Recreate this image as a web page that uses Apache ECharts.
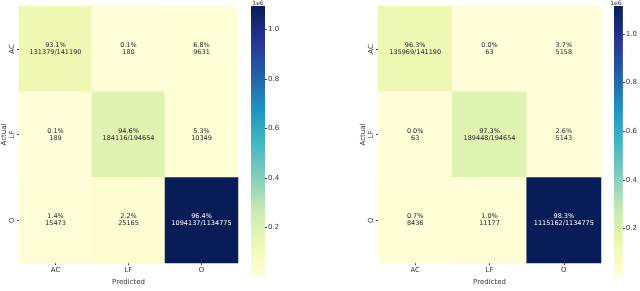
<!DOCTYPE html>
<html><head><meta charset="utf-8">
<script src="https://cdn.jsdelivr.net/npm/echarts@6/dist/echarts.min.js"></script>
<style>html,body{margin:0;padding:0;background:#fff}#c{width:640px;height:291px}</style>
</head><body><div id="c"></div>
<script>
// Data
const classes = ['AC', 'LF', 'O'];
// rows = actual, cols = predicted
const leftMatrix = [
  [131379, 180, 9631],
  [189, 184116, 10349],
  [15473, 25165, 1094137]
];
const rightMatrix = [
  [135969, 63, 5158],
  [63, 189448, 5143],
  [8436, 11177, 1115162]
];
const cbTicks = [0.2, 0.4, 0.6, 0.8, 1.0];

const ylgnbu = ['#ffffd9','#edf8b1','#c7e9b4','#7fcdbb','#41b6c4','#1d91c0','#225ea8','#253494','#081d58'];

function buildData(m) {
  const mx = Math.max(...m.flat()), mn = Math.min(...m.flat());
  const out = [];
  for (let r = 0; r < m.length; r++) {
    const tot = m[r].reduce((a, b) => a + b, 0);
    for (let c = 0; c < m[r].length; c++) {
      const v = m[r][c];
      const pct = (v / tot * 100).toFixed(1) + '%';
      const txt = r === c ? pct + '\n' + v + '/' + tot : pct + '\n' + v;
      const dark = (v - mn) / (mx - mn) > 0.5;
      out.push({ value: [c, r, v], label: { formatter: txt, color: dark ? '#ffffff' : '#262626' } });
    }
  }
  return { data: out, min: mn, max: mx };
}
const L = buildData(leftMatrix), R = buildData(rightMatrix);

const font = 'DejaVu Sans';
function hmAxes(gi) {
  return {
    x: { type: 'category', gridIndex: gi, data: classes, position: 'bottom',
      axisLine: { show: false }, axisTick: { show: true, length: 2, alignWithLabel: true, lineStyle: { color: '#333' } },
      axisLabel: { fontSize: 7, color: '#333', fontFamily: font, margin: 4 },
      name: 'Predicted', nameLocation: 'middle', nameGap: 12, nameTextStyle: { fontSize: 7, color: '#333', fontFamily: font },
      splitLine: { show: false } },
    y: { type: 'category', gridIndex: gi, data: classes, inverse: true,
      axisLine: { show: false }, axisTick: { show: true, length: 2, alignWithLabel: true, lineStyle: { color: '#333' } },
      axisLabel: { fontSize: 7, color: '#333', fontFamily: font, rotate: 90, margin: 3 },
      name: 'Actual', nameLocation: 'middle', nameGap: 11, nameRotate: 90, nameTextStyle: { fontSize: 7, color: '#333', fontFamily: font },
      splitLine: { show: false } }
  };
}
function cbAxes(gi, max) {
  return {
    x: { type: 'category', gridIndex: gi, data: ['cb'], show: false },
    y: { type: 'value', gridIndex: gi, min: 0, max: max, interval: 200000, position: 'right',
      axisLine: { show: false }, axisTick: { show: true, length: 2, lineStyle: { color: '#333' } },
      axisLabel: { fontSize: 7, color: '#333', fontFamily: font, margin: 3, showMinLabel: false, showMaxLabel: false,
        formatter: v => cbTicks.some(t => Math.abs(t * 1e6 - v) < 1) ? (v / 1e6).toFixed(1) : '' },
      splitLine: { show: false },
      name: '1e6', nameLocation: 'end', nameGap: 0, nameTextStyle: { fontSize: 6, color: '#333', fontFamily: font, align: 'center', padding: [0, 14, 0, 0] } }
  };
}
const a0 = hmAxes(0), a1 = hmAxes(1), c0 = cbAxes(2, L.max), c1 = cbAxes(3, R.max);

function gradient() {
  const stops = ylgnbu.map((c, i) => ({ offset: i / (ylgnbu.length - 1), color: c }));
  return new echarts.graphic.LinearGradient(0, 1, 0, 0, stops);
}

const chart = echarts.init(document.getElementById('c'), null, { renderer: 'canvas' });
chart.setOption({
  animation: false,
  backgroundColor: '#fff',
  textStyle: { fontFamily: font },
  grid: [
    { left: 16, top: 6, width: 222, height: 271 },
    { left: 378, top: 6, width: 223, height: 271 },
    { left: 251, top: 6, width: 14, height: 271 },
    { left: 614, top: 6, width: 14, height: 271 }
  ],
  xAxis: [a0.x, a1.x, c0.x, c1.x],
  yAxis: [a0.y, a1.y, c0.y, c1.y],
  visualMap: [
    { show: false, type: 'continuous', seriesIndex: 0, min: L.min, max: L.max, dimension: 2, inRange: { color: ylgnbu } },
    { show: false, type: 'continuous', seriesIndex: 1, min: R.min, max: R.max, dimension: 2, inRange: { color: ylgnbu } }
  ],
  series: [
    { type: 'heatmap', xAxisIndex: 0, yAxisIndex: 0, data: L.data,
      label: { show: true, fontSize: 6.5, lineHeight: 7, fontFamily: font } },
    { type: 'heatmap', xAxisIndex: 1, yAxisIndex: 1, data: R.data,
      label: { show: true, fontSize: 6.5, lineHeight: 7, fontFamily: font } },
    { type: 'bar', xAxisIndex: 2, yAxisIndex: 2, data: [L.max], barWidth: '100%', itemStyle: { color: gradient() }, silent: true },
    { type: 'bar', xAxisIndex: 3, yAxisIndex: 3, data: [R.max], barWidth: '100%', itemStyle: { color: gradient() }, silent: true }
  ]
});
</script>
</body></html>
